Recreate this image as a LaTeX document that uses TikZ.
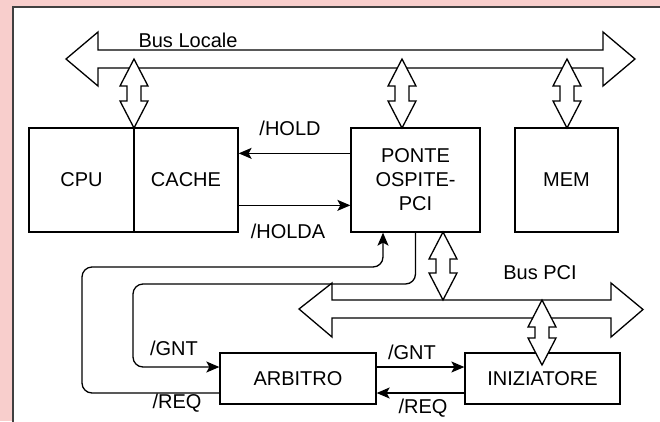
\documentclass[tikz,border=0pt]{standalone}
\usepackage{fontspec}
\setmainfont{Liberation Sans}
\usetikzlibrary{arrows.meta}
\definecolor{pinkbg}{HTML}{F8CECC}
\begin{document}
\begin{tikzpicture}[x=1pt,y=-1pt,
  every node/.style={font=\fontsize{20}{24}\selectfont},
  box/.style={draw, line width=1.3pt, minimum height=104pt, inner sep=0pt, align=center},
  sbox/.style={draw, line width=1.3pt, minimum height=51pt, inner sep=0pt, align=center},
  lbl/.style={inner sep=0pt},
  arr/.style={line width=1.3pt, -{Stealth[length=13pt,width=11pt,inset=3pt]}},
  busshape/.style={draw, fill=white, line width=1.3pt, line join=miter},
  pics/vdbl/.style={code={
    \draw[busshape] (0,0) -- (14,27) -- (7,27) -- (7,#1-27) -- (14,#1-27) -- (0,#1)
      -- (-14,#1-27) -- (-7,#1-27) -- (-7,27) -- (-14,27) -- cycle;
  }}]
\useasboundingbox (0,0) rectangle (660,421);
\clip (0,0) rectangle (660,421);
% background panel
\fill[pinkbg] (0,0) rectangle (660,421);
\draw[fill=white, draw=black!75, line width=2pt] (13,7) rectangle (700,460);

% buses
\draw[busshape] (66,59) -- (98,32) -- (98,50) -- (603,50) -- (603,32) -- (635,59)
  -- (603,86) -- (603,68) -- (98,68) -- (98,86) -- cycle;
\node[lbl] (buslocale) at (188,40) {Bus Locale};
\draw[busshape] (299,309) -- (332,283) -- (332,300) -- (611,300) -- (611,283) -- (643,309.5)
  -- (611,337) -- (611,318) -- (332,318) -- (332,337) -- cycle;
\node[lbl] (buspci) at (540,273) {Bus PCI};

% boxes
\node[box, minimum width=105pt] (cpu) at (81.5,180) {CPU};
\node[box, minimum width=104pt] (cache) at (186,180) {CACHE};
\node[box, minimum width=129pt] (ponte) at (415.5,180) {PONTE\\OSPITE-\\PCI};
\node[box, minimum width=103pt] (mem) at (566.5,180) {MEM};
\node[sbox, minimum width=156pt] (arb) at (298,378.5) {ARBITRO};
\node[sbox, minimum width=155pt] (ini) at (542.5,378.5) {INIZIATORE};

% bus connections
\pic at (134,59) {vdbl=69};
\pic at (402,59) {vdbl=69};
\pic at (567,59) {vdbl=69};
\pic at (443,232) {vdbl=68};
\pic at (542,300) {vdbl=65};

% HOLD / HOLDA
\draw[arr] ([yshift=-26pt]ponte.north west) -- ([yshift=-26pt]cache.north east);
\node[lbl] (hold) at (290,128) {/HOLD};
\draw[arr] ([yshift=-78pt]cache.north east) -- ([yshift=-78pt]ponte.north west);
\node[lbl] (holda) at (288,231) {/HOLDA};

% GNT / REQ loops to bridge
\draw[arr, rounded corners=10pt] (ponte.south) |- (133,284) |- ([yshift=11.5pt]arb.west);
\node[lbl] (gnt1) at (174,348) {/GNT};
\draw[arr, rounded corners=10pt] ([yshift=-14.5pt]arb.west) -| (82,267) -| ([xshift=-32.5pt]ponte.south);
\node[lbl] (req1) at (177,403) {/REQ};

% arbiter <-> initiator
\draw[arr] ([yshift=11.5pt]arb.east) -- ([yshift=11.5pt]ini.west);
\node[lbl] (gnt2) at (412,352) {/GNT};
\draw[arr] ([yshift=-14.5pt]ini.west) -- ([yshift=-14.5pt]arb.east);
\node[lbl] (req2) at (423,408) {/REQ};
\end{tikzpicture}
\end{document}
